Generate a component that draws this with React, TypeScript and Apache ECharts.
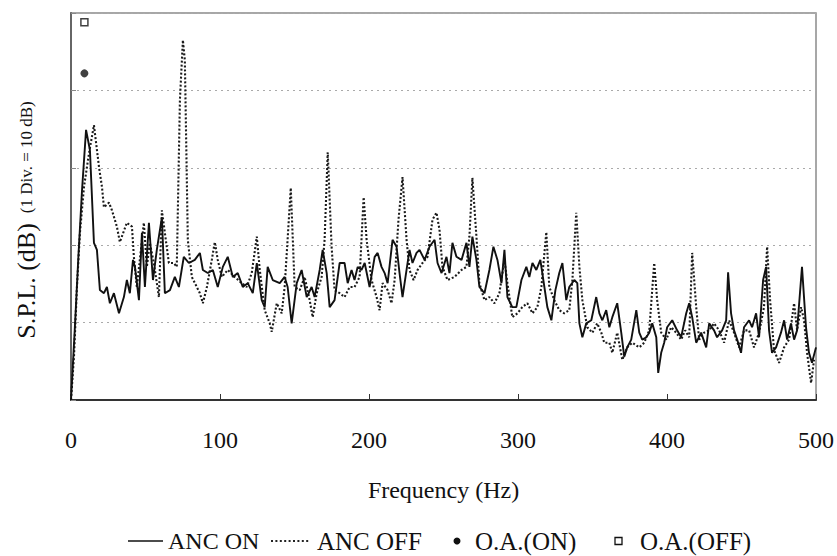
import React, { useEffect, useRef } from "react";
import * as echarts from "echarts";

const FONT = "'Liberation Serif', 'Times New Roman', serif";

const xTicks = [0, 100, 200, 300, 400, 500];

const onFreq = [
  0, 2.5, 5.0, 7.4, 10.1, 12.7, 15.4, 17.4, 19.4, 22.1, 24.1, 26.1, 28.8, 32.2, 35.5, 37.5, 39.5, 41.6, 42.9, 45.6,
  47.6, 49.6, 52.3, 55.0, 57.6, 61.0, 63.0, 66.4, 69.7, 72.4, 75.7, 79.1, 83.1, 86.5, 88.5, 91.8, 95.2, 98.5, 101.9,
  105.2, 108.6, 111.9, 115.3, 118.6, 122.0, 124.7, 128.0, 130.0, 132.0, 135.4, 140.1, 143.4, 145.4, 148.1, 151.5,
  154.8, 158.2, 161.5, 163.5, 166.9, 168.9, 171.6, 173.6, 176.9, 180.3, 183.6, 185.7, 188.3, 190.3, 192.4, 195.0,
  197.1, 200.4, 203.8, 205.8, 208.4, 210.5, 212.5, 215.8, 218.5, 220.5, 222.5, 225.2, 227.2, 229.2, 231.9, 233.9,
  237.3, 240.6, 244.0, 246.0, 248.7, 252.0, 254.0, 256.0, 258.7, 262.1, 265.4, 267.4, 269.4, 272.1, 274.1, 277.5,
  280.8, 283.5, 286.2, 288.9, 290.9, 292.9, 296.2, 298.9, 302.3, 305.6, 307.6, 309.7, 312.3, 315.0, 317.7, 319.7,
  322.4, 325.1, 327.7, 329.8, 332.4, 334.4, 337.8, 339.8, 341.2, 343.2, 345.8, 349.2, 352.5, 354.6, 356.6, 359.2,
  361.3, 363.3, 366.6, 369.3, 371.3, 373.3, 376.0, 379.4, 381.4, 383.4, 386.1, 388.1, 390.1, 392.8, 394.1, 396.1,
  398.1, 400.1, 403.5, 406.8, 409.5, 412.9, 414.9, 416.9, 419.6, 422.9, 426.3, 428.3, 431.6, 433.6, 437.0, 439.7,
  441.0, 443.0, 445.0, 447.1, 449.7, 451.7, 455.1, 457.1, 459.8, 461.8, 464.5, 466.5, 468.5, 470.5, 473.2, 476.5,
  478.6, 480.6, 483.2, 485.3, 487.3, 490.6, 493.3, 495.3, 497.3, 500.0,
];
const onLevel = [
  0, 9.0, 18.7, 27.1, 34.9, 32.3, 20.3, 19.4, 14.2, 13.8, 14.6, 12.5, 13.8, 11.2, 13.3, 15.5, 13.8, 18.1, 17.2, 12.9,
  21.6, 14.6, 22.9, 15.5, 19.4, 23.6, 13.8, 14.2, 15.9, 14.6, 18.5, 17.7, 18.1, 19.0, 16.8, 16.4, 16.8, 14.6, 17.2,
  18.5, 15.9, 16.4, 14.6, 15.1, 13.8, 17.7, 12.9, 12.0, 17.2, 15.5, 15.1, 15.9, 14.6, 9.9, 15.1,
  16.8, 13.3, 14.6, 13.3, 16.8, 19.4, 16.4, 12.0, 12.9, 17.7, 17.7, 15.1, 16.8, 15.5, 17.2, 16.8,
  17.7, 14.6, 18.5, 19.0, 17.2, 16.4, 15.1, 20.7, 19.8, 16.4, 13.3, 16.8, 19.4, 17.7, 19.0, 19.4,
  18.1, 19.8, 20.7, 17.7, 16.4, 18.5, 16.4, 20.3, 18.5, 18.1, 20.3, 17.2, 21.1, 18.1, 14.6, 13.8,
  16.8, 19.8, 18.1, 15.1, 19.4, 13.3, 12.0, 12.0, 15.5, 17.2, 15.9, 17.7, 16.8, 18.1, 14.6, 12.0,
  10.3, 14.2, 16.4, 17.7, 12.9, 14.6, 15.5, 15.1, 9.9, 8.1, 9.9, 10.3, 13.3, 11.2, 10.3, 11.6,
  9.4, 10.7, 12.5, 8.7, 5.6, 6.8, 7.8, 11.6, 8.7, 7.8, 8.1, 8.7, 9.9, 8.1, 3.5, 6.1,
  7.4, 9.4, 10.3, 9.0, 8.1, 11.2, 12.5, 10.7, 7.4, 8.7, 6.8, 9.9, 9.0, 8.1, 9.0, 10.3,
  16.5, 11.2, 9.0, 7.8, 6.1, 9.4, 10.3, 9.4, 11.2, 8.1, 15.5, 17.2, 9.0, 6.1, 6.8, 8.7,
  10.3, 7.8, 9.9, 7.8, 9.0, 17.2, 9.4, 6.1, 4.8, 6.8,
];

const offFreq = [
  0, 2.0, 4.0, 6.0, 8.7, 12.1, 15.4, 18.8, 20.8, 22.1, 25.5, 27.5, 30.8, 32.8, 37.5, 40.9, 42.2, 44.2, 48.9, 50.9,
  52.9, 55.6, 59.0, 61.0, 63.0, 65.7, 69.0, 71.0, 73.1, 75.1, 76.4, 78.4, 81.1, 86.5, 88.5, 91.2, 94.5, 96.5, 98.5,
  101.2, 105.2, 109.9, 114.6, 118.0, 121.3, 124.7, 126.7, 130.0, 133.4, 134.7, 138.1, 141.4, 143.4, 147.5, 150.1,
  153.5, 156.8, 160.2, 162.2, 164.9, 168.2, 170.2, 172.3, 174.9, 176.9, 180.3, 183.6, 187.0, 190.3, 193.7, 196.4,
  198.4, 201.7, 205.1, 207.1, 209.1, 212.5, 215.1, 217.2, 219.8, 222.5, 225.2, 227.2, 229.9, 232.6, 235.9, 239.3,
  242.6, 245.3, 247.3, 249.3, 252.7, 257.4, 262.1, 265.4, 267.4, 269.4, 272.1, 274.1, 277.5, 280.8, 284.2, 287.5,
  290.9, 292.9, 296.2, 299.6, 302.9, 306.3, 309.7, 313.0, 315.7, 319.0, 321.0, 324.4, 327.7, 331.1, 334.4, 336.5,
  339.1, 341.2, 343.2, 346.5, 349.9, 353.2, 355.9, 357.9, 361.3, 363.3, 366.6, 370.0, 373.3, 376.7, 381.4, 384.7,
  388.1, 391.4, 393.4, 396.1, 399.5, 402.8, 406.2, 409.5, 412.2, 414.9, 416.9, 419.6, 421.6, 424.9, 428.3, 431.6,
  435.0, 438.3, 441.7, 445.0, 448.4, 451.7, 455.1, 458.4, 461.8, 465.1, 467.2, 469.2, 471.8, 475.2, 478.6, 481.9,
  485.3, 487.3, 490.0, 492.0, 494.0, 496.7, 498.7,
];
const offLevel = [
  0, 5.6, 14.6, 21.6, 27.5, 31.9, 35.5, 30.1, 27.5, 24.9, 25.5, 24.5, 22.4, 20.4, 22.9, 22.4, 18.5, 14.6, 22.9, 17.2,
  20.3, 17.7, 13.3, 24.5, 21.6, 17.7, 17.7, 17.2, 38.8, 46.5, 43.9, 20.7, 15.9, 13.8, 12.5, 14.6, 18.1, 20.4, 18.1,
  15.9, 16.8, 15.9, 15.1, 14.6, 16.4, 21.1, 16.8, 11.6, 9.9, 8.8, 12.5, 11.2, 14.6, 27.4, 14.6,
  14.2, 15.9, 12.9, 10.7, 13.8, 15.9, 20.7, 32.0, 19.8, 14.2, 13.8, 13.3, 14.6, 14.6, 15.9, 26.2,
  20.7, 15.5, 13.3, 11.6, 15.1, 14.2, 12.5, 15.5, 23.3, 28.8, 20.7, 16.8, 15.5, 16.8, 17.7, 18.5,
  23.3, 24.2, 22.0, 17.2, 15.5, 15.9, 16.8, 17.2, 21.1, 28.7, 21.1, 15.1, 12.9, 13.3, 12.5, 13.8,
  18.1, 15.1, 10.7, 11.2, 12.0, 12.5, 11.2, 12.0, 14.6, 21.7, 14.6, 12.9, 11.6, 11.2, 11.6, 15.5,
  24.2, 17.2, 12.9, 9.4, 8.7, 9.9, 8.7, 7.4, 7.4, 6.1, 8.7, 5.2, 6.8, 7.4, 6.8, 7.4,
  9.0, 17.7, 12.9, 8.7, 7.8, 9.4, 8.7, 7.8, 9.0, 8.1, 19.0, 12.0, 7.8, 8.7, 9.0, 9.9,
  9.0, 7.4, 10.3, 8.7, 6.8, 9.0, 9.0, 6.8, 8.7, 12.0, 19.8, 12.9, 6.5, 4.8, 6.8, 7.8,
  12.5, 9.0, 12.0, 10.3, 6.1, 2.2, 5.2,
];

const oaFreq = [9];
const oaOn = [42.2];
const oaOff = [48.8];

const zip = (xs: number[], ys: number[]) => xs.map((x, i) => [x, ys[i]]);

export default function App() {
  const ref = useRef<HTMLDivElement>(null);
  useEffect(() => {
    if (!ref.current) return;
    const chart = echarts.init(ref.current, null, { renderer: "svg" });
    const legendY = 541;
    chart.setOption({
      animation: false,
      backgroundColor: "#ffffff",
      textStyle: { fontFamily: FONT },
      grid: {
        left: 71,
        right: 20,
        top: 13,
        bottom: 156,
        show: true,
        borderColor: "#8a8a8a",
        borderWidth: 1.5,
      },
      xAxis: {
        type: "value",
        min: 0,
        max: 500,
        interval: 100,
        name: "Frequency (Hz)",
        nameLocation: "middle",
        nameGap: 78,
        nameTextStyle: { fontFamily: FONT, fontSize: 24, color: "#111" },
        axisLine: { show: true, onZero: false, lineStyle: { color: "#333", width: 2 } },
        axisTick: { show: true, inside: true, length: 6, lineStyle: { color: "#333", width: 1 } },
        axisLabel: {
          fontFamily: FONT,
          fontSize: 24,
          color: "#111",
          margin: 28,
          showMinLabel: true,
          showMaxLabel: true,
          formatter: (v: number) => (xTicks.includes(v) ? String(v) : ""),
        },
        splitLine: { show: false },
      },
      yAxis: {
        type: "value",
        min: 0,
        max: 50,
        interval: 10,
        axisLine: { show: true, lineStyle: { color: "#666", width: 2 } },
        axisTick: { show: true, inside: true, length: 5, lineStyle: { color: "#888" } },
        axisLabel: { show: false },
        splitLine: { show: true, lineStyle: { color: "#aaa", type: [2, 4], width: 1.2 } },
      },
      series: [
        {
          name: "ANC OFF",
          type: "line",
          data: zip(offFreq, offLevel),
          symbol: "none",
          lineStyle: { color: "#1a1a1a", width: 2.1, type: [2, 2] },
          z: 2,
        },
        {
          name: "ANC ON",
          type: "line",
          data: zip(onFreq, onLevel),
          symbol: "none",
          lineStyle: { color: "#111", width: 1.9 },
          z: 3,
        },
        {
          name: "O.A.(ON)",
          type: "scatter",
          data: zip(oaFreq, oaOn),
          symbol: "circle",
          symbolSize: 8,
          itemStyle: { color: "#111" },
          z: 4,
        },
        {
          name: "O.A.(OFF)",
          type: "scatter",
          data: zip(oaFreq, oaOff),
          symbol: "rect",
          symbolSize: 7,
          itemStyle: { color: "#fff", borderColor: "#111", borderWidth: 1.5 },
          z: 4,
        },
      ],
      graphic: [
        {
          type: "text",
          x: 26,
          y: 220,
          rotation: Math.PI / 2,
          style: {
            text: "{a|S.P.L. (dB)}   {b|(1 Div. = 10 dB)}",
            align: "center",
            verticalAlign: "middle",
            fill: "#111",
            rich: {
              a: { fontFamily: FONT, fontSize: 26, fill: "#111" },
              b: { fontFamily: FONT, fontSize: 17, fill: "#111" },
            },
          },
        },
        {
          type: "line",
          shape: { x1: 128, y1: legendY, x2: 163, y2: legendY },
          style: { stroke: "#111", lineWidth: 1.6 },
        },
        {
          type: "text",
          x: 168,
          y: legendY,
          style: { text: "ANC ON", fontFamily: FONT, fontSize: 24, fill: "#111", verticalAlign: "middle" },
        },
        {
          type: "line",
          shape: { x1: 271, y1: legendY, x2: 310, y2: legendY },
          style: { stroke: "#222", lineWidth: 2, lineDash: [2, 2.4] },
        },
        {
          type: "text",
          x: 317,
          y: legendY,
          style: { text: "ANC OFF", fontFamily: FONT, fontSize: 25, fill: "#111", verticalAlign: "middle" },
        },
        {
          type: "circle",
          shape: { cx: 457, cy: legendY, r: 3.5 },
          style: { fill: "#111" },
        },
        {
          type: "text",
          x: 475,
          y: legendY,
          style: { text: "O.A.(ON)", fontFamily: FONT, fontSize: 25, fill: "#111", verticalAlign: "middle" },
        },
        {
          type: "rect",
          shape: { x: 615, y: legendY - 3.5, width: 7, height: 7 },
          style: { fill: "#fff", stroke: "#111", lineWidth: 1.3 },
        },
        {
          type: "text",
          x: 640,
          y: legendY,
          style: { text: "O.A.(OFF)", fontFamily: FONT, fontSize: 25, fill: "#111", verticalAlign: "middle" },
        },
      ],
    });
    return () => chart.dispose();
  }, []);
  return <div ref={ref} style={{ position: "fixed", left: 0, top: 0, width: 837, height: 556 }} />;
}
